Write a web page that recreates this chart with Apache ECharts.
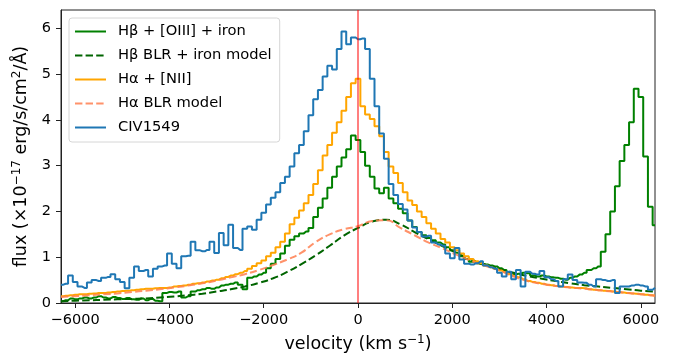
<!DOCTYPE html>
<html>
<head>
<meta charset="utf-8">
<script src="https://cdn.jsdelivr.net/npm/echarts@6/dist/echarts.min.js"></script>
<style>
  html, body { margin: 0; padding: 0; background: #fff; }
  #chart { width: 678px; height: 354px; }
</style>
</head>
<body>
<div id="chart"></div>
<script>
// Binned spectra: bin centres start at binStart and advance by binStep (km/s)
const binStart = -6300;
const binStep = 100;

// H-beta + [OIII] + iron (observed)
const hbetaObs = [
  0.04, 0.06, 0.10, 0.08, 0.10, 0.12, 0.10, 0.12, 0.15, 0.12,
  0.10, 0.13, 0.11, 0.09, 0.11, 0.08, 0.07, 0.10, 0.06, 0.09,
  0.05, 0.04, 0.22, 0.24, 0.23, 0.25, 0.12, 0.15, 0.25, 0.28,
  0.30, 0.33, 0.31, 0.34, 0.38, 0.40, 0.42, 0.45, 0.40, 0.30,
  0.55, 0.58, 0.62, 0.66, 0.76, 0.86, 0.96, 1.08, 1.25, 1.38,
  1.46, 1.52, 1.56, 1.64, 1.88, 2.08, 2.28, 2.52, 2.76, 2.98,
  3.18, 3.36, 3.66, 3.56, 3.30, 3.00, 2.76, 2.50, 2.40, 2.52,
  2.28, 2.18, 2.06, 1.96, 1.80, 1.66, 1.55, 1.48, 1.42, 1.37,
  1.32, 1.28, 1.22, 1.15, 1.10, 1.02, 0.96, 0.90, 0.87, 0.85,
  0.84, 0.82, 0.80, 0.76, 0.72, 0.66, 0.62, 0.64, 0.66, 0.65,
  0.60, 0.58, 0.60, 0.58, 0.56, 0.55, 0.53, 0.51, 0.55, 0.58,
  0.62, 0.66, 0.72, 0.76, 0.80, 1.12, 1.50, 2.00, 2.55, 3.10,
  3.45, 3.95, 4.68, 4.50, 3.20, 2.10, 1.70
];

// H-alpha + [NII] (observed)
const halphaObs = [
  0.15, 0.16, 0.17, 0.18, 0.19, 0.19, 0.20, 0.21, 0.22, 0.22,
  0.23, 0.24, 0.25, 0.26, 0.27, 0.28, 0.29, 0.30, 0.31, 0.31,
  0.32, 0.33, 0.33, 0.34, 0.36, 0.37, 0.38, 0.40, 0.42, 0.43,
  0.45, 0.47, 0.49, 0.51, 0.54, 0.57, 0.60, 0.63, 0.66, 0.70,
  0.75, 0.81, 0.87, 0.93, 1.02, 1.10, 1.22, 1.34, 1.52, 1.72,
  1.86, 2.02, 2.18, 2.36, 2.60, 2.90, 3.22, 3.45, 3.72, 3.95,
  4.20, 4.50, 4.80, 4.90, 4.30, 4.12, 4.02, 3.86, 3.64, 3.30,
  2.98, 2.84, 2.62, 2.42, 2.24, 2.14, 2.00, 1.88, 1.74, 1.62,
  1.52, 1.40, 1.32, 1.22, 1.15, 1.08, 1.02, 0.96, 0.91, 0.87,
  0.82, 0.78, 0.74, 0.71, 0.67, 0.63, 0.59, 0.56, 0.52, 0.48,
  0.46, 0.44, 0.42, 0.40, 0.39, 0.37, 0.36, 0.35, 0.34, 0.33,
  0.33, 0.32, 0.30, 0.29, 0.28, 0.27, 0.26, 0.25, 0.24, 0.23,
  0.22, 0.21, 0.20, 0.19, 0.18, 0.17, 0.16
];

// CIV 1549 (observed)
const civObs = [
  0.40, 0.42, 0.60, 0.46, 0.36, 0.33, 0.45, 0.50, 0.48, 0.55,
  0.57, 0.63, 0.52, 0.46, 0.32, 0.55, 0.80, 0.70, 0.72, 0.58,
  0.75, 0.80, 0.82, 1.08, 0.86, 0.76, 1.02, 1.03, 1.34, 1.15,
  1.13, 1.16, 1.34, 1.09, 1.53, 1.26, 1.71, 1.20, 1.16, 1.62,
  1.67, 1.60, 1.82, 1.97, 2.15, 2.30, 2.42, 2.62, 2.76, 2.98,
  3.27, 3.45, 3.75, 4.10, 4.45, 4.65, 4.95, 5.18, 5.10, 5.55,
  5.93, 5.65, 5.80, 5.76, 5.78, 5.55, 4.90, 4.30, 3.70, 3.15,
  2.60, 2.36, 2.16, 2.04, 1.80, 1.65, 1.55, 1.45, 1.47, 1.32,
  1.28, 1.25, 1.08, 0.98, 1.20, 0.95, 0.86, 0.84, 0.87, 0.91,
  0.82, 0.78, 0.75, 0.66, 0.58, 0.68, 0.52, 0.72, 0.36, 0.68,
  0.64, 0.62, 0.70, 0.56, 0.52, 0.48, 0.36, 0.52, 0.62, 0.50,
  0.45, 0.44, 0.40, 0.36, 0.52, 0.50, 0.48, 0.50, 0.22, 0.36,
  0.36, 0.38, 0.40, 0.38, 0.36, 0.29, 0.33
];

// Broad-line-region models, sampled every modelStep km/s from modelStart
const modelStart = -6300;
const modelStep = 300;

const hbetaModel = [
  0.04, 0.05, 0.06, 0.07, 0.08, 0.09, 0.10, 0.12, 0.14, 0.17,
  0.20, 0.25, 0.30, 0.36, 0.44, 0.54, 0.68, 0.85, 1.04, 1.25,
  1.47, 1.64, 1.78, 1.82, 1.72, 1.55, 1.39, 1.24, 1.09, 0.95,
  0.84, 0.74, 0.66, 0.59, 0.53, 0.48, 0.43, 0.39, 0.36, 0.33,
  0.30, 0.27, 0.25
];

const halphaModel = [
  0.13, 0.15, 0.17, 0.19, 0.21, 0.24, 0.27, 0.30, 0.34, 0.38,
  0.43, 0.49, 0.56, 0.63, 0.72, 0.83, 0.95, 1.10, 1.33, 1.50,
  1.61, 1.68, 1.79, 1.81, 1.64, 1.48, 1.32, 1.19, 1.05, 0.92,
  0.81, 0.71, 0.58, 0.48, 0.42, 0.37, 0.34, 0.31, 0.28, 0.25,
  0.22, 0.19, 0.16
];

// Axis ticks
const xTicks = [-6000, -4000, -2000, 0, 2000, 4000, 6000];
const yTicks = [0, 1, 2, 3, 4, 5, 6];
const xRange = [-6300, 6300];
const yRange = [0, 6.4];
const restVelocity = 0;

const seriesNames = [
  'H\u03B2 + [OIII] + iron',
  'H\u03B2 BLR + iron model',
  'H\u03B1 + [NII]',
  'H\u03B1 BLR model',
  'CIV1549'
];

function pairs(start, step, values) {
  return values.map((y, i) => [start + i * step, y]);
}

const FONT = 'DejaVu Sans';
const dash = [7.4, 3.2];
const supStyle = { fontFamily: FONT, fontSize: 12, color: '#000', verticalAlign: 'top', padding: [0, 0, 9, 0] };

const chart = echarts.init(document.getElementById('chart'), null, { renderer: 'canvas' });

chart.setOption({
  animation: false,
  backgroundColor: '#fff',
  textStyle: { fontFamily: FONT },
  grid: {
    left: 61, right: 23, top: 10, bottom: 51,
    outerBoundsMode: 'none',
    show: true, borderColor: '#222', borderWidth: 1, backgroundColor: 'transparent'
  },
  legend: {
    orient: 'vertical',
    left: 69, top: 18,
    data: seriesNames,
    itemWidth: 31, itemHeight: 14, itemGap: 9,
    padding: [6, 8, 7, 5],
    backgroundColor: 'rgba(255,255,255,0.85)',
    borderColor: '#d6d6d6', borderWidth: 1, borderRadius: 3,
    itemStyle: { opacity: 0 },
    textStyle: { fontFamily: FONT, fontSize: 14.7, color: '#000', padding: [0, 0, 0, 7] },
    selectedMode: false
  },
  xAxis: {
    type: 'value',
    min: xRange[0], max: xRange[1],
    name: 'velocity (km s{s|\u22121})',
    nameLocation: 'middle', nameGap: 31,
    nameTextStyle: { fontFamily: FONT, fontSize: 17.5, color: '#000', rich: { s: supStyle } },
    axisLine: { show: true, onZero: false, lineStyle: { color: '#222', width: 1 } },
    axisTick: { show: true, length: 5, lineStyle: { color: '#222' }, customValues: xTicks },
    axisLabel: {
      customValues: xTicks, margin: 10,
      fontFamily: FONT, fontSize: 14.5, color: '#000',
      formatter: v => String(v).replace('-', '\u2212')
    },
    splitLine: { show: false }
  },
  yAxis: {
    type: 'value',
    min: yRange[0], max: yRange[1],
    name: 'flux (\u00D710{s|\u221217} erg/s/cm{s|2}/\u00C5)',
    nameLocation: 'middle', nameGap: 26,
    nameTextStyle: { fontFamily: FONT, fontSize: 17.5, color: '#000', rich: { s: supStyle } },
    axisLine: { show: true, onZero: false, lineStyle: { color: '#222', width: 1 } },
    axisTick: { show: true, length: 5, lineStyle: { color: '#222' }, customValues: yTicks },
    axisLabel: {
      customValues: yTicks, margin: 10,
      fontFamily: FONT, fontSize: 14.5, color: '#000'
    },
    splitLine: { show: false }
  },
  series: [
    {
      name: seriesNames[0], type: 'line', step: 'middle', symbol: 'none',
      data: pairs(binStart, binStep, hbetaObs),
      lineStyle: { color: '#008000', width: 2 }, itemStyle: { color: '#008000' }, z: 2
    },
    {
      name: seriesNames[1], type: 'line', smooth: true, symbol: 'none',
      data: pairs(modelStart, modelStep, hbetaModel),
      lineStyle: { color: '#006400', width: 2, type: dash }, itemStyle: { color: '#006400' }, z: 3
    },
    {
      name: seriesNames[2], type: 'line', step: 'middle', symbol: 'none',
      data: pairs(binStart, binStep, halphaObs),
      lineStyle: { color: '#ffa500', width: 2 }, itemStyle: { color: '#ffa500' }, z: 4
    },
    {
      name: seriesNames[3], type: 'line', smooth: true, symbol: 'none',
      data: pairs(modelStart, modelStep, halphaModel),
      lineStyle: { color: '#ff7f50', width: 2, type: dash, opacity: 0.85 }, itemStyle: { color: '#ff7f50' }, z: 5
    },
    {
      name: seriesNames[4], type: 'line', step: 'middle', symbol: 'none',
      data: pairs(binStart, binStep, civObs),
      lineStyle: { color: '#1f77b4', width: 2 }, itemStyle: { color: '#1f77b4' }, z: 6
    },
    {
      name: 'rest', type: 'line', symbol: 'none', silent: true,
      data: [[restVelocity, yRange[0]], [restVelocity, yRange[1]]],
      lineStyle: { color: 'rgba(255,0,0,0.5)', width: 2 }, z: 7
    }
  ]
});
</script>
</body>
</html>
